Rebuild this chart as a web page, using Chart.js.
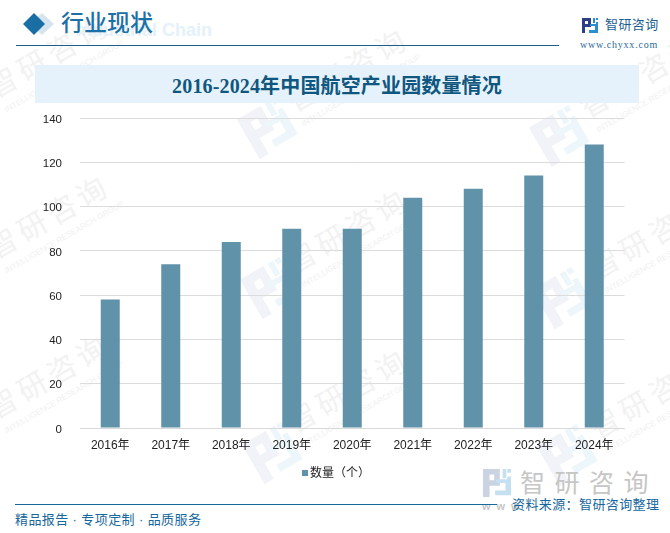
<!DOCTYPE html>
<html lang="zh">
<head>
<meta charset="utf-8">
<script src="https://cdn.jsdelivr.net/npm/chart.js@4"></script>
<style>
html,body{margin:0;padding:0;background:#fff;}
#page{position:relative;width:670px;height:533px;overflow:hidden;font-family:"Liberation Sans","Noto Sans CJK SC",sans-serif;}
#page div,#page svg{position:absolute;white-space:nowrap;}
canvas{position:absolute;left:0;top:0;}
.wm{color:#f2f2f2;font-size:29px;line-height:30px;height:30px;letter-spacing:5px;transform:rotate(-30deg);transform-origin:left bottom;}
.wms{color:#f1f1f1;font-size:8px;line-height:10px;height:10px;transform:rotate(-30deg);transform-origin:left bottom;}
.wl{transform:rotate(-30deg);transform-origin:center;}
</style>
</head>
<body>
<div id="page">
  <svg width="0" height="0" style="left:0;top:0"><defs>
    <symbol id="mark" viewBox="0 0 30 30">
      <path d="M0 0h18v18H7v12H0zM7 6v6h5V6z" fill="#f1f3f8" fill-rule="evenodd"/>
      <path d="M21 0h4v10h-4zM26 0h4v4h-4zM26 8h4v20H13v-5h11v-8H14v-4h12z" fill="#edf6fb"/>
    </symbol>
  </defs></svg>
  <div class="wm" style="left:-2px;top:73px">智研咨询</div><div class="wms" style="left:8px;top:105px">INTELLIGENCE RESEARCH GROUP</div>
  <div class="wm" style="left:297px;top:87px">智研咨询</div><div class="wms" style="left:305px;top:119px">INTELLIGENCE RESEARCH GROUP</div>
  <div class="wm" style="left:590px;top:93px">智研咨询</div><div class="wms" style="left:600px;top:125px">INTELLIGENCE RESEARCH GROUP</div>
  <div class="wm" style="left:-2px;top:234px">智研咨询</div><div class="wms" style="left:8px;top:266px">INTELLIGENCE RESEARCH GROUP</div>
  <div class="wm" style="left:297px;top:248px">智研咨询</div><div class="wms" style="left:305px;top:280px">INTELLIGENCE RESEARCH GROUP</div>
  <div class="wm" style="left:600px;top:254px">智研咨询</div><div class="wms" style="left:608px;top:286px">INTELLIGENCE RESEARCH GROUP</div>
  <div class="wm" style="left:-2px;top:394px">智研咨询</div><div class="wms" style="left:8px;top:426px">INTELLIGENCE RESEARCH GROUP</div>
  <div class="wm" style="left:297px;top:408px">智研咨询</div><div class="wms" style="left:305px;top:440px">INTELLIGENCE RESEARCH GROUP</div>
  <div class="wm" style="left:600px;top:414px">智研咨询</div><div class="wms" style="left:608px;top:446px">INTELLIGENCE RESEARCH GROUP</div>

  <svg class="wl" style="left:245px;top:105px" width="46" height="46"><use href="#mark"/></svg>
  <svg class="wl" style="left:537px;top:113px" width="46" height="46"><use href="#mark"/></svg>
  <svg class="wl" style="left:248px;top:265px" width="46" height="46"><use href="#mark"/></svg>
  <svg class="wl" style="left:540px;top:275px" width="46" height="46"><use href="#mark"/></svg>
  <svg class="wl" style="left:250px;top:430px" width="46" height="46"><use href="#mark"/></svg>
  <svg class="wl" style="left:545px;top:432px" width="46" height="46"><use href="#mark"/></svg>

  <div style="left:76px;top:19px;font:700 18px/22px 'Liberation Sans';color:#e4f1fa">Industrial Chain</div>
  <svg style="left:22px;top:12px" width="34" height="24" viewBox="0 0 34 24">
    <polygon points="20,1 32,12 20,23 8,12" fill="#d5e5ef"/>
    <polygon points="12,1 23,12 12,23 1,12" fill="#1a6ea6"/>
  </svg>
  <div style="left:61px;top:6px;font-size:23px;font-weight:500;line-height:30px;color:#1b70a6;font-family:'Noto Sans CJK SC'">行业现状</div>
  <div style="left:16px;top:45px;width:543px;height:1px;background:#1d5f8a"></div>

  <svg style="left:582px;top:18px" width="16" height="15" viewBox="0 0 16 15">
    <path d="M0 0h9v9H3v6H0zM3 3v3h3V3z" fill="#2d3f87" fill-rule="evenodd"/>
    <path d="M11 0h2v5h-2zM14 0h2v2h-2zM14 4h2v11H7v-3h6V8H8V6h6z" fill="#2a8ed0"/>
  </svg>
  <div style="left:605px;top:15px;font-size:13px;line-height:20px;letter-spacing:.4px;color:#1c5f92">智研咨询</div>
  <div style="left:580px;top:38px;font:10px/14px 'Liberation Serif';letter-spacing:.8px;color:#2a6b98">www.chyxx.com</div>

  <div style="left:35px;top:65px;width:604px;height:38px;background:#e5f2fb"></div>
  <div style="left:35px;top:65px;width:604px;height:38px;text-align:center;letter-spacing:.15px;font:700 20px/42px 'Liberation Serif','Noto Sans CJK SC';color:#10577f">2016-2024年中国航空产业园数量情况</div>

  <svg style="left:483px;top:469px" width="28" height="28" viewBox="0 0 30 30">
    <path d="M0 0h18v18H7v12H0zM7 6v6h5V6z" fill="#c9d3e2" fill-rule="evenodd"/>
    <path d="M21 0h4v10h-4zM26 0h4v4h-4zM26 8h4v20H13v-5h11v-8H14v-4h12z" fill="#c5e0f0"/>
  </svg>
  <div style="left:520px;top:466px;font-size:25px;line-height:34px;letter-spacing:9.5px;color:#c6c6c6">智研咨询</div>
  <div style="left:482px;top:499px;font-size:11px;line-height:14px;font-weight:700;letter-spacing:6px;color:#c6c6c6">www</div>

  <div style="left:15px;top:504px;width:482px;height:1px;background:#156a9b"></div>
  <div style="left:15px;top:510px;font-size:13px;line-height:19px;letter-spacing:.4px;color:#15679c">精品报告 · 专项定制 · 品质服务</div>
  <div style="left:512px;top:495px;font-size:13px;line-height:19px;letter-spacing:.4px;color:#15679c">资料来源：智研咨询整理</div>
  <canvas id="c" width="670" height="533"></canvas>
  <div id="legendBox" style="left:302px;top:470px;width:6px;height:6px"></div>
  <div id="legendText" style="left:310px;top:464px;font-size:12px;line-height:18px;color:#222"></div>
</div>
<script>
const categories = ["2016年","2017年","2018年","2019年","2020年","2021年","2022年","2023年","2024年"];
const seriesName = "数量（个）";
const values = [58,74,84,90,90,104,108,114,128];
const yMax = 140;
const yStep = 20;
const barColor = '#6092aa';

const labelFont = {family:"'Liberation Sans','Noto Sans CJK SC'",size:12};
const chart = new Chart(document.getElementById('c'),{
  type:'bar',
  data:{labels:categories,datasets:[{label:seriesName,data:values,backgroundColor:barColor,categoryPercentage:1,barPercentage:0.314}]},
  options:{
    responsive:false,animation:false,devicePixelRatio:1,
    layout:{padding:{left:0,right:45.5,top:118,bottom:78}},
    scales:{
      x:{
        grid:{display:false,drawTicks:false},
        border:{color:'#d9d9d9',width:1},
        ticks:{color:'#222',font:labelFont,padding:10,maxRotation:0,autoSkip:false},
        afterFit(s){s.height=27;}
      },
      y:{
        min:0,max:yMax,
        grid:{color:'#dcdcdc',lineWidth:1,drawTicks:false},
        border:{display:false},
        ticks:{stepSize:yStep,color:'#222',font:{family:labelFont.family,size:11.5},padding:18,labelOffset:1.5},
        afterFit(s){s.width=80;}
      }
    },
    plugins:{title:{display:false},tooltip:{enabled:false},legend:{display:false}}
  }
});
document.getElementById('legendBox').style.background = chart.data.datasets[0].backgroundColor;
document.getElementById('legendText').textContent = chart.data.datasets[0].label;
</script>
</body>
</html>
